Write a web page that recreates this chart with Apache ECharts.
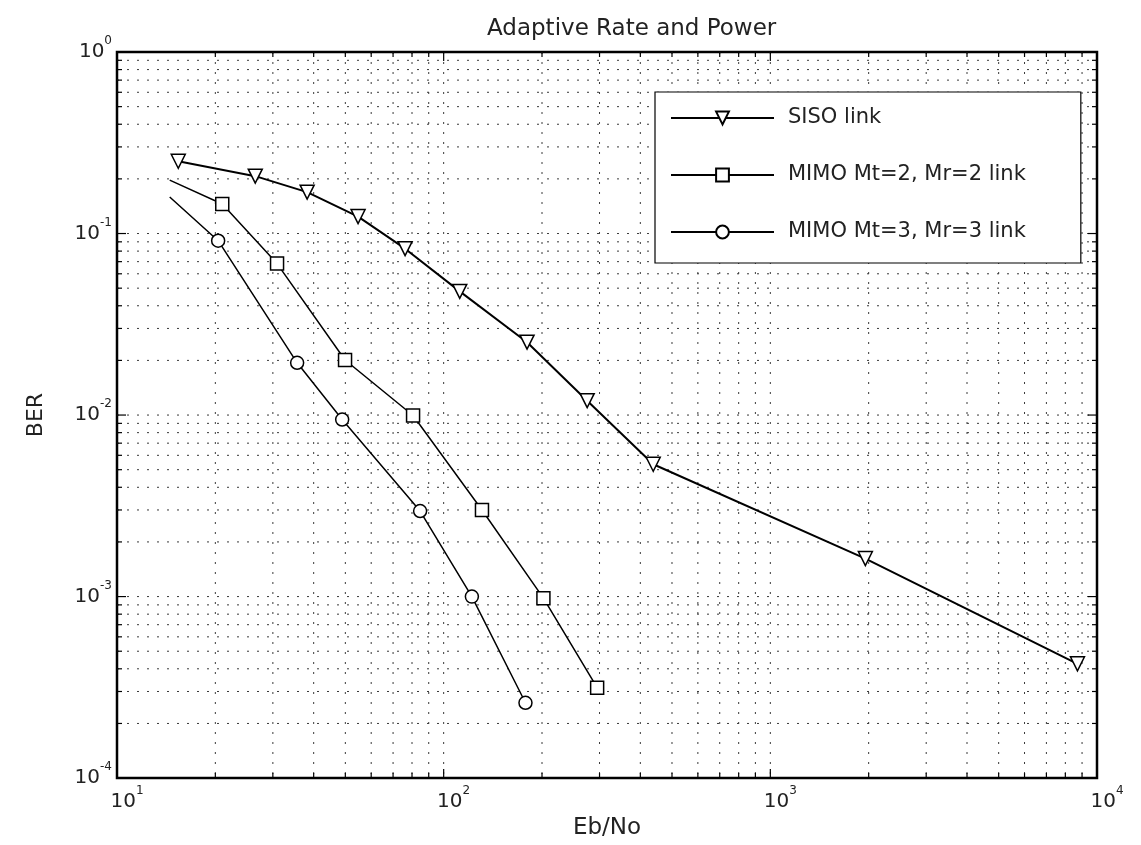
<!DOCTYPE html>
<html>
<head>
<meta charset="utf-8">
<title>Adaptive Rate and Power</title>
<script src="https://cdn.jsdelivr.net/npm/echarts@6/dist/echarts.min.js"></script>
<style>
  html, body { margin: 0; padding: 0; background: #fff; }
  #main { width: 1141px; height: 845px; }
</style>
</head>
<body>
<div id="main"></div>
<script>
// values (Eb/No linear, BER)
const sisoEbNo = [15.4, 26.5, 38.2, 54.7, 76.2, 112, 180, 275, 438, 1954, 8714];
const sisoBer = [0.250, 0.207, 0.169, 0.124, 0.0825, 0.048, 0.0252, 0.0120, 0.00536, 0.00162, 0.000426];
const mimo2EbNo = [14.5, 21.0, 30.9, 49.9, 80.6, 131, 202, 295];
const mimo2Ber = [0.197, 0.1455, 0.0683, 0.0201, 0.00994, 0.0030, 0.00098, 0.000315];
const mimo3EbNo = [14.5, 20.4, 35.6, 48.9, 84.7, 122, 178];
const mimo3Ber = [0.159, 0.0913, 0.0194, 0.00945, 0.00296, 0.00100, 0.00026];
const seriesNames = ['SISO link', 'MIMO Mt=2, Mr=2 link', 'MIMO Mt=3, Mr=3 link'];

const X_MIN = 10, X_MAX = 10000;
const Y_MIN = 1e-4, Y_MAX = 1;
const FONT = 'DejaVu Sans';

// log grid positions: 1..9 times every decade, borders excluded
const xDecades = [10, 100, 1000];
const yDecades = [1e-4, 1e-3, 1e-2, 1e-1];
const gridX = [];
xDecades.forEach(d => { for (let m = 1; m <= 9; m++) if (d * m > X_MIN) gridX.push(d * m); });
const gridY = [];
yDecades.forEach(d => { for (let m = 1; m <= 9; m++) if (m > 1 || d > Y_MIN) gridY.push(d * m); });

function isDecade(v) {
  const l = Math.log10(v);
  return Math.abs(l - Math.round(l)) < 1e-6;
}

const dotted = { stroke: '#3a3a3a', lineWidth: 1, lineDash: [2, 8] };
const tickStyle = { stroke: '#000', lineWidth: 1.2 };

function vGrid(params, api) {
  const x = api.value(0);
  const top = api.coord([x, Y_MAX]);
  const bot = api.coord([x, Y_MIN]);
  const len = isDecade(x) ? 9 : 5;
  return {
    type: 'group',
    children: [
      { type: 'line', shape: { x1: top[0], y1: top[1], x2: bot[0], y2: bot[1] }, style: dotted },
      { type: 'line', shape: { x1: bot[0], y1: bot[1], x2: bot[0], y2: bot[1] - len }, style: tickStyle },
      { type: 'line', shape: { x1: top[0], y1: top[1], x2: top[0], y2: top[1] + len }, style: tickStyle }
    ]
  };
}

function hGrid(params, api) {
  const y = api.value(1);
  const l = api.coord([X_MIN, y]);
  const r = api.coord([X_MAX, y]);
  const len = isDecade(y) ? 9 : 5;
  return {
    type: 'group',
    children: [
      { type: 'line', shape: { x1: l[0], y1: l[1], x2: r[0], y2: r[1] }, style: dotted },
      { type: 'line', shape: { x1: l[0], y1: l[1], x2: l[0] + len, y2: l[1] }, style: tickStyle },
      { type: 'line', shape: { x1: r[0], y1: r[1], x2: r[0] - len, y2: r[1] }, style: tickStyle }
    ]
  };
}

function pts(xs, ys, hideFirst) {
  return xs.map((x, i) => (hideFirst && i === 0) ? { value: [x, ys[i]], symbol: 'none' } : [x, ys[i]]);
}

function powLabel(value) {
  return '{b|10}{s|' + Math.round(Math.log10(value)) + '}';
}

const labelRich = {
  b: { fontFamily: FONT, fontSize: 20, lineHeight: 34, color: '#222' },
  s: { fontFamily: FONT, fontSize: 12, lineHeight: 6, verticalAlign: 'top', color: '#222' }
};

const markerStyle = { color: '#fff', borderColor: '#000', borderWidth: 1.5 };

const option = {
  animation: false,
  backgroundColor: '#fff',
  title: {
    text: 'Adaptive Rate and Power',
    left: 482,
    top: 13,
    textStyle: { fontFamily: FONT, fontSize: 23, fontWeight: 'normal', color: '#222' }
  },
  legend: {
    orient: 'vertical',
    left: 655,
    top: 92,
    data: seriesNames,
    itemWidth: 103,
    itemHeight: 16,
    itemGap: 33,
    padding: [14, 55, 19, 15],
    borderColor: '#000',
    borderWidth: 1.2,
    borderRadius: 0,
    backgroundColor: '#fff',
    textStyle: { fontFamily: FONT, fontSize: 21, lineHeight: 24, color: '#222', padding: [0, 0, 0, 9] }
  },
  grid: {
    left: 117, top: 52, right: 44, bottom: 62,
    show: true, borderColor: '#000', borderWidth: 2.5, backgroundColor: '#fff'
  },
  xAxis: {
    type: 'log',
    min: X_MIN,
    max: X_MAX,
    name: 'Eb/No',
    nameLocation: 'middle',
    nameGap: 36,
    nameTextStyle: { fontFamily: FONT, fontSize: 23, color: '#222' },
    axisLine: { show: false },
    axisTick: { show: false },
    splitLine: { show: false },
    axisLabel: { formatter: powLabel, rich: labelRich, margin: 7, padding: [0, 0, 0, 20] }
  },
  yAxis: {
    type: 'log',
    min: Y_MIN,
    max: Y_MAX,
    name: 'BER',
    nameLocation: 'middle',
    nameGap: 70,
    nameTextStyle: { fontFamily: FONT, fontSize: 22, color: '#222' },
    axisLine: { show: false },
    axisTick: { show: false },
    splitLine: { show: false },
    axisLabel: { formatter: powLabel, rich: labelRich, margin: 5 }
  },
  series: [
    {
      type: 'custom',
      silent: true,
      z: 1,
      renderItem: vGrid,
      data: gridX.map(x => [x, Y_MIN])
    },
    {
      type: 'custom',
      silent: true,
      z: 1,
      renderItem: hGrid,
      data: gridY.map(y => [X_MIN, y])
    },
    {
      name: seriesNames[0],
      type: 'line',
      z: 3,
      data: pts(sisoEbNo, sisoBer, false),
      symbol: 'triangle',
      symbolRotate: 180,
      symbolSize: 14,
      lineStyle: { color: '#000', width: 2 },
      itemStyle: markerStyle
    },
    {
      name: seriesNames[1],
      type: 'line',
      z: 3,
      data: pts(mimo2EbNo, mimo2Ber, true),
      symbol: 'rect',
      symbolSize: 13,
      lineStyle: { color: '#000', width: 1.5 },
      itemStyle: markerStyle
    },
    {
      name: seriesNames[2],
      type: 'line',
      z: 3,
      data: pts(mimo3EbNo, mimo3Ber, true),
      symbol: 'circle',
      symbolSize: 13,
      lineStyle: { color: '#000', width: 1.5 },
      itemStyle: markerStyle
    }
  ]
};

const chart = echarts.init(document.getElementById('main'));
chart.setOption(option);
</script>
</body>
</html>
